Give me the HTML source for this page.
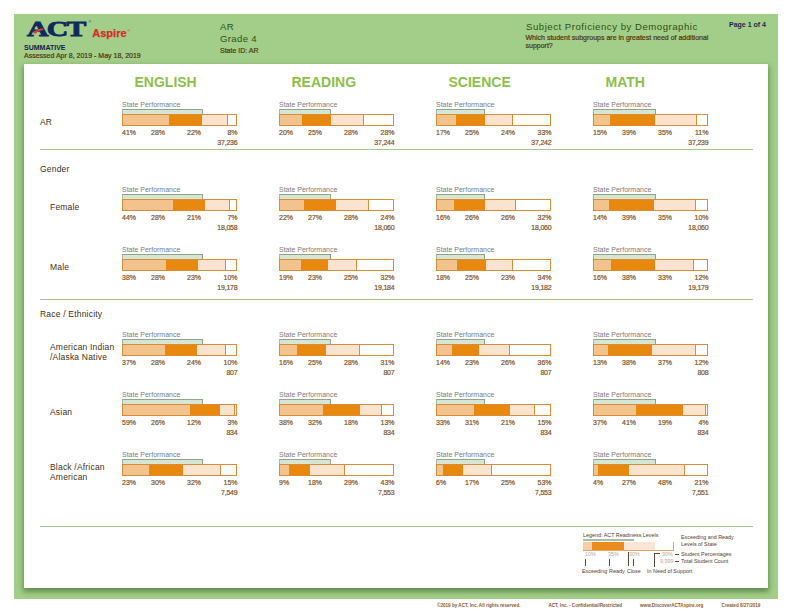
<!DOCTYPE html>
<html><head><meta charset="utf-8"><style>
html,body{margin:0;padding:0;background:#fff;}
body{width:792px;height:612px;position:relative;overflow:hidden;font-family:"Liberation Sans", sans-serif;}
.t{position:absolute;white-space:nowrap;}
.r{position:absolute;box-sizing:border-box;}
</style></head><body>
<div class="r" style="left:14px;top:14px;width:764px;height:585px;background:#a2ce89;"></div>
<div class="r" style="left:24px;top:64px;width:744px;height:524px;background:#ffffff;box-shadow:0 3px 5px 1px rgba(40,85,30,0.5);"></div>
<div class="t" style="left:27px;top:14px;font-family:'Liberation Serif',serif;font-weight:bold;font-size:21.5px;line-height:30px;color:#0f2a5e;transform:scaleX(1.38);transform-origin:0 0;letter-spacing:-1.2px;-webkit-text-stroke:0.9px #0f2a5e;">ACT</div>
<svg style="position:absolute;left:0;top:0" width="792" height="612"><path d="M33 33.2 C34.6 30.6 38.2 28.6 43.4 28.6 L43.4 30.2 C39.6 30.4 37 31.6 36 33.4 Z" fill="#dc3a2c"/></svg>
<div class="t" style="left:88.5px;top:20px;font-size:3.5px;line-height:4px;color:#0f2a5e;">&reg;</div>
<div class="t" style="left:92.3px;top:28px;font-size:11px;line-height:11px;color:#d42c27;font-weight:bold;-webkit-text-stroke:0.25px #d42c27;">Aspire</div>
<div class="t" style="left:127.5px;top:28.5px;font-size:3.5px;line-height:4px;color:#d42c27;">&reg;</div>
<div class="t" style="left:24px;top:44px;font-size:7px;line-height:7px;color:#13214a;font-weight:bold;">SUMMATIVE</div>
<div class="t" style="left:24px;top:52px;font-size:7px;line-height:7px;color:#4f3510;font-weight:normal;-webkit-text-stroke:0.2px #4f3510;">Assessed Apr 8, 2019 - May 18, 2019</div>
<div class="t" style="left:220px;top:22px;font-size:9.6px;line-height:9.6px;color:#2f5216;font-weight:normal;letter-spacing:0.35px;">AR</div>
<div class="t" style="left:220px;top:34px;font-size:9.6px;line-height:9.6px;color:#2f5216;font-weight:normal;letter-spacing:0.33px;">Grade 4</div>
<div class="t" style="left:220px;top:47px;font-size:7px;line-height:7px;color:#4a3a14;font-weight:normal;-webkit-text-stroke:0.2px #4a3a14;">State ID: AR</div>
<div class="t" style="left:526px;top:22px;font-size:9.6px;line-height:9.6px;color:#2f5216;font-weight:normal;letter-spacing:0.52px;">Subject Proficiency by Demographic</div>
<div class="t" style="left:525.5px;top:34px;font-size:7px;line-height:7px;color:#4f3510;font-weight:normal;-webkit-text-stroke:0.2px #4f3510;">Which student subgroups are in greatest need of additional</div>
<div class="t" style="left:525.5px;top:42px;font-size:7px;line-height:7px;color:#4f3510;font-weight:normal;-webkit-text-stroke:0.2px #4f3510;">support?</div>
<div class="t" style="right:26px;top:21px;font-size:7px;line-height:7px;color:#1b2a55;font-weight:bold;">Page 1 of 4</div>
<div class="t" style="left:134.5px;top:75px;font-size:14px;line-height:14px;color:#8dbf4b;font-weight:bold;">ENGLISH</div>
<div class="t" style="left:291.5px;top:75px;font-size:14px;line-height:14px;color:#8dbf4b;font-weight:bold;">READING</div>
<div class="t" style="left:448.5px;top:75px;font-size:14px;line-height:14px;color:#8dbf4b;font-weight:bold;">SCIENCE</div>
<div class="t" style="left:605.5px;top:75px;font-size:14px;line-height:14px;color:#8dbf4b;font-weight:bold;">MATH</div>
<div class="r" style="left:40px;top:149px;width:713px;height:1px;background:#a6c793;"></div>
<div class="t" style="left:40px;top:165px;font-size:8.5px;line-height:8.5px;color:#46301a;font-weight:normal;letter-spacing:0.2px;">Gender</div>
<div class="r" style="left:40px;top:299px;width:713px;height:1px;background:#a6c793;"></div>
<div class="t" style="left:40px;top:310px;font-size:8.5px;line-height:8.5px;color:#46301a;font-weight:normal;letter-spacing:0.2px;">Race / Ethnicity</div>
<div class="r" style="left:40px;top:526px;width:713px;height:1px;background:#a6c793;"></div>
<div class="t" style="left:40px;top:118px;font-size:8.5px;line-height:8.5px;color:#46301a;font-weight:normal;letter-spacing:0.2px;">AR</div>
<div class="t" style="left:122px;top:101px;font-size:7px;line-height:7px;color:#7d7d7d;font-weight:normal;">State Performance</div>
<div class="r" style="left:122px;top:109px;width:81px;height:6px;background:#d6e6d2;border:1px solid #8fa58c;border-left-color:#a9bca6;border-bottom:none;"></div>
<div class="r" style="left:122px;top:114px;width:115px;height:12px;background:#fff;border:1px solid #d98d38;"></div>
<div class="r" style="left:123px;top:115px;width:46px;height:10px;background:#f3c38e;"></div>
<div class="r" style="left:169px;top:115px;width:33px;height:10px;background:#e8880e;"></div>
<div class="r" style="left:202px;top:115px;width:25px;height:10px;background:#fbe4cf;"></div>
<div class="r" style="left:227px;top:115px;width:1px;height:10px;background:#d98d38;"></div>
<div class="t" style="left:122px;top:129px;font-size:7px;line-height:7px;color:#80532a;font-weight:normal;-webkit-text-stroke:0.2px #80532a;">41%</div>
<div class="t" style="right:627px;top:129px;font-size:7px;line-height:7px;color:#80532a;font-weight:normal;-webkit-text-stroke:0.2px #80532a;">28%</div>
<div class="t" style="right:591px;top:129px;font-size:7px;line-height:7px;color:#80532a;font-weight:normal;-webkit-text-stroke:0.2px #80532a;">22%</div>
<div class="t" style="right:554.5px;top:129px;font-size:7px;line-height:7px;color:#80532a;font-weight:normal;-webkit-text-stroke:0.2px #80532a;">8%</div>
<div class="t" style="right:554.5px;top:139px;font-size:7px;line-height:7px;color:#80532a;font-weight:normal;letter-spacing:-0.2px;-webkit-text-stroke:0.2px #80532a;">37,236</div>
<div class="t" style="left:279px;top:101px;font-size:7px;line-height:7px;color:#7d7d7d;font-weight:normal;">State Performance</div>
<div class="r" style="left:279px;top:109px;width:52px;height:6px;background:#d6e6d2;border:1px solid #8fa58c;border-left-color:#a9bca6;border-bottom:none;"></div>
<div class="r" style="left:279px;top:114px;width:115px;height:12px;background:#fff;border:1px solid #d98d38;"></div>
<div class="r" style="left:280px;top:115px;width:22px;height:10px;background:#f3c38e;"></div>
<div class="r" style="left:302px;top:115px;width:29px;height:10px;background:#e8880e;"></div>
<div class="r" style="left:331px;top:115px;width:32px;height:10px;background:#fbe4cf;"></div>
<div class="r" style="left:363px;top:115px;width:1px;height:10px;background:#d98d38;"></div>
<div class="t" style="left:279px;top:129px;font-size:7px;line-height:7px;color:#80532a;font-weight:normal;-webkit-text-stroke:0.2px #80532a;">20%</div>
<div class="t" style="right:470px;top:129px;font-size:7px;line-height:7px;color:#80532a;font-weight:normal;-webkit-text-stroke:0.2px #80532a;">25%</div>
<div class="t" style="right:434px;top:129px;font-size:7px;line-height:7px;color:#80532a;font-weight:normal;-webkit-text-stroke:0.2px #80532a;">28%</div>
<div class="t" style="right:397.5px;top:129px;font-size:7px;line-height:7px;color:#80532a;font-weight:normal;-webkit-text-stroke:0.2px #80532a;">28%</div>
<div class="t" style="right:397.5px;top:139px;font-size:7px;line-height:7px;color:#80532a;font-weight:normal;letter-spacing:-0.2px;-webkit-text-stroke:0.2px #80532a;">37,244</div>
<div class="t" style="left:436px;top:101px;font-size:7px;line-height:7px;color:#7d7d7d;font-weight:normal;">State Performance</div>
<div class="r" style="left:436px;top:109px;width:49px;height:6px;background:#d6e6d2;border:1px solid #8fa58c;border-left-color:#a9bca6;border-bottom:none;"></div>
<div class="r" style="left:436px;top:114px;width:115px;height:12px;background:#fff;border:1px solid #d98d38;"></div>
<div class="r" style="left:437px;top:115px;width:19px;height:10px;background:#f3c38e;"></div>
<div class="r" style="left:456px;top:115px;width:29px;height:10px;background:#e8880e;"></div>
<div class="r" style="left:485px;top:115px;width:27px;height:10px;background:#fbe4cf;"></div>
<div class="r" style="left:512px;top:115px;width:1px;height:10px;background:#d98d38;"></div>
<div class="t" style="left:436px;top:129px;font-size:7px;line-height:7px;color:#80532a;font-weight:normal;-webkit-text-stroke:0.2px #80532a;">17%</div>
<div class="t" style="right:313px;top:129px;font-size:7px;line-height:7px;color:#80532a;font-weight:normal;-webkit-text-stroke:0.2px #80532a;">25%</div>
<div class="t" style="right:277px;top:129px;font-size:7px;line-height:7px;color:#80532a;font-weight:normal;-webkit-text-stroke:0.2px #80532a;">24%</div>
<div class="t" style="right:240.5px;top:129px;font-size:7px;line-height:7px;color:#80532a;font-weight:normal;-webkit-text-stroke:0.2px #80532a;">33%</div>
<div class="t" style="right:240.5px;top:139px;font-size:7px;line-height:7px;color:#80532a;font-weight:normal;letter-spacing:-0.2px;-webkit-text-stroke:0.2px #80532a;">37,242</div>
<div class="t" style="left:593px;top:101px;font-size:7px;line-height:7px;color:#7d7d7d;font-weight:normal;">State Performance</div>
<div class="r" style="left:593px;top:109px;width:63px;height:6px;background:#d6e6d2;border:1px solid #8fa58c;border-left-color:#a9bca6;border-bottom:none;"></div>
<div class="r" style="left:593px;top:114px;width:115px;height:12px;background:#fff;border:1px solid #d98d38;"></div>
<div class="r" style="left:594px;top:115px;width:16px;height:10px;background:#f3c38e;"></div>
<div class="r" style="left:610px;top:115px;width:45px;height:10px;background:#e8880e;"></div>
<div class="r" style="left:655px;top:115px;width:41px;height:10px;background:#fbe4cf;"></div>
<div class="r" style="left:696px;top:115px;width:1px;height:10px;background:#d98d38;"></div>
<div class="t" style="left:593px;top:129px;font-size:7px;line-height:7px;color:#80532a;font-weight:normal;-webkit-text-stroke:0.2px #80532a;">15%</div>
<div class="t" style="right:156px;top:129px;font-size:7px;line-height:7px;color:#80532a;font-weight:normal;-webkit-text-stroke:0.2px #80532a;">39%</div>
<div class="t" style="right:120px;top:129px;font-size:7px;line-height:7px;color:#80532a;font-weight:normal;-webkit-text-stroke:0.2px #80532a;">35%</div>
<div class="t" style="right:83.5px;top:129px;font-size:7px;line-height:7px;color:#80532a;font-weight:normal;-webkit-text-stroke:0.2px #80532a;">11%</div>
<div class="t" style="right:83.5px;top:139px;font-size:7px;line-height:7px;color:#80532a;font-weight:normal;letter-spacing:-0.2px;-webkit-text-stroke:0.2px #80532a;">37,239</div>
<div class="t" style="left:50px;top:203px;font-size:8.5px;line-height:8.5px;color:#46301a;font-weight:normal;letter-spacing:0.2px;">Female</div>
<div class="t" style="left:122px;top:186px;font-size:7px;line-height:7px;color:#7d7d7d;font-weight:normal;">State Performance</div>
<div class="r" style="left:122px;top:194px;width:81px;height:6px;background:#d6e6d2;border:1px solid #8fa58c;border-left-color:#a9bca6;border-bottom:none;"></div>
<div class="r" style="left:122px;top:199px;width:115px;height:12px;background:#fff;border:1px solid #d98d38;"></div>
<div class="r" style="left:123px;top:200px;width:50px;height:10px;background:#f3c38e;"></div>
<div class="r" style="left:173px;top:200px;width:32px;height:10px;background:#e8880e;"></div>
<div class="r" style="left:205px;top:200px;width:24px;height:10px;background:#fbe4cf;"></div>
<div class="r" style="left:229px;top:200px;width:1px;height:10px;background:#d98d38;"></div>
<div class="t" style="left:122px;top:214px;font-size:7px;line-height:7px;color:#80532a;font-weight:normal;-webkit-text-stroke:0.2px #80532a;">44%</div>
<div class="t" style="right:627px;top:214px;font-size:7px;line-height:7px;color:#80532a;font-weight:normal;-webkit-text-stroke:0.2px #80532a;">28%</div>
<div class="t" style="right:591px;top:214px;font-size:7px;line-height:7px;color:#80532a;font-weight:normal;-webkit-text-stroke:0.2px #80532a;">21%</div>
<div class="t" style="right:554.5px;top:214px;font-size:7px;line-height:7px;color:#80532a;font-weight:normal;-webkit-text-stroke:0.2px #80532a;">7%</div>
<div class="t" style="right:554.5px;top:224px;font-size:7px;line-height:7px;color:#80532a;font-weight:normal;letter-spacing:-0.2px;-webkit-text-stroke:0.2px #80532a;">18,058</div>
<div class="t" style="left:279px;top:186px;font-size:7px;line-height:7px;color:#7d7d7d;font-weight:normal;">State Performance</div>
<div class="r" style="left:279px;top:194px;width:52px;height:6px;background:#d6e6d2;border:1px solid #8fa58c;border-left-color:#a9bca6;border-bottom:none;"></div>
<div class="r" style="left:279px;top:199px;width:115px;height:12px;background:#fff;border:1px solid #d98d38;"></div>
<div class="r" style="left:280px;top:200px;width:24px;height:10px;background:#f3c38e;"></div>
<div class="r" style="left:304px;top:200px;width:32px;height:10px;background:#e8880e;"></div>
<div class="r" style="left:336px;top:200px;width:32px;height:10px;background:#fbe4cf;"></div>
<div class="r" style="left:368px;top:200px;width:1px;height:10px;background:#d98d38;"></div>
<div class="t" style="left:279px;top:214px;font-size:7px;line-height:7px;color:#80532a;font-weight:normal;-webkit-text-stroke:0.2px #80532a;">22%</div>
<div class="t" style="right:470px;top:214px;font-size:7px;line-height:7px;color:#80532a;font-weight:normal;-webkit-text-stroke:0.2px #80532a;">27%</div>
<div class="t" style="right:434px;top:214px;font-size:7px;line-height:7px;color:#80532a;font-weight:normal;-webkit-text-stroke:0.2px #80532a;">28%</div>
<div class="t" style="right:397.5px;top:214px;font-size:7px;line-height:7px;color:#80532a;font-weight:normal;-webkit-text-stroke:0.2px #80532a;">24%</div>
<div class="t" style="right:397.5px;top:224px;font-size:7px;line-height:7px;color:#80532a;font-weight:normal;letter-spacing:-0.2px;-webkit-text-stroke:0.2px #80532a;">18,060</div>
<div class="t" style="left:436px;top:186px;font-size:7px;line-height:7px;color:#7d7d7d;font-weight:normal;">State Performance</div>
<div class="r" style="left:436px;top:194px;width:49px;height:6px;background:#d6e6d2;border:1px solid #8fa58c;border-left-color:#a9bca6;border-bottom:none;"></div>
<div class="r" style="left:436px;top:199px;width:115px;height:12px;background:#fff;border:1px solid #d98d38;"></div>
<div class="r" style="left:437px;top:200px;width:17px;height:10px;background:#f3c38e;"></div>
<div class="r" style="left:454px;top:200px;width:31px;height:10px;background:#e8880e;"></div>
<div class="r" style="left:485px;top:200px;width:30px;height:10px;background:#fbe4cf;"></div>
<div class="r" style="left:515px;top:200px;width:1px;height:10px;background:#d98d38;"></div>
<div class="t" style="left:436px;top:214px;font-size:7px;line-height:7px;color:#80532a;font-weight:normal;-webkit-text-stroke:0.2px #80532a;">16%</div>
<div class="t" style="right:313px;top:214px;font-size:7px;line-height:7px;color:#80532a;font-weight:normal;-webkit-text-stroke:0.2px #80532a;">26%</div>
<div class="t" style="right:277px;top:214px;font-size:7px;line-height:7px;color:#80532a;font-weight:normal;-webkit-text-stroke:0.2px #80532a;">26%</div>
<div class="t" style="right:240.5px;top:214px;font-size:7px;line-height:7px;color:#80532a;font-weight:normal;-webkit-text-stroke:0.2px #80532a;">32%</div>
<div class="t" style="right:240.5px;top:224px;font-size:7px;line-height:7px;color:#80532a;font-weight:normal;letter-spacing:-0.2px;-webkit-text-stroke:0.2px #80532a;">18,060</div>
<div class="t" style="left:593px;top:186px;font-size:7px;line-height:7px;color:#7d7d7d;font-weight:normal;">State Performance</div>
<div class="r" style="left:593px;top:194px;width:63px;height:6px;background:#d6e6d2;border:1px solid #8fa58c;border-left-color:#a9bca6;border-bottom:none;"></div>
<div class="r" style="left:593px;top:199px;width:115px;height:12px;background:#fff;border:1px solid #d98d38;"></div>
<div class="r" style="left:594px;top:200px;width:15px;height:10px;background:#f3c38e;"></div>
<div class="r" style="left:609px;top:200px;width:45px;height:10px;background:#e8880e;"></div>
<div class="r" style="left:654px;top:200px;width:41px;height:10px;background:#fbe4cf;"></div>
<div class="r" style="left:695px;top:200px;width:1px;height:10px;background:#d98d38;"></div>
<div class="t" style="left:593px;top:214px;font-size:7px;line-height:7px;color:#80532a;font-weight:normal;-webkit-text-stroke:0.2px #80532a;">14%</div>
<div class="t" style="right:156px;top:214px;font-size:7px;line-height:7px;color:#80532a;font-weight:normal;-webkit-text-stroke:0.2px #80532a;">39%</div>
<div class="t" style="right:120px;top:214px;font-size:7px;line-height:7px;color:#80532a;font-weight:normal;-webkit-text-stroke:0.2px #80532a;">35%</div>
<div class="t" style="right:83.5px;top:214px;font-size:7px;line-height:7px;color:#80532a;font-weight:normal;-webkit-text-stroke:0.2px #80532a;">10%</div>
<div class="t" style="right:83.5px;top:224px;font-size:7px;line-height:7px;color:#80532a;font-weight:normal;letter-spacing:-0.2px;-webkit-text-stroke:0.2px #80532a;">18,060</div>
<div class="t" style="left:50px;top:263px;font-size:8.5px;line-height:8.5px;color:#46301a;font-weight:normal;letter-spacing:0.2px;">Male</div>
<div class="t" style="left:122px;top:246px;font-size:7px;line-height:7px;color:#7d7d7d;font-weight:normal;">State Performance</div>
<div class="r" style="left:122px;top:254px;width:81px;height:6px;background:#d6e6d2;border:1px solid #8fa58c;border-left-color:#a9bca6;border-bottom:none;"></div>
<div class="r" style="left:122px;top:259px;width:115px;height:12px;background:#fff;border:1px solid #d98d38;"></div>
<div class="r" style="left:123px;top:260px;width:43px;height:10px;background:#f3c38e;"></div>
<div class="r" style="left:166px;top:260px;width:32px;height:10px;background:#e8880e;"></div>
<div class="r" style="left:198px;top:260px;width:27px;height:10px;background:#fbe4cf;"></div>
<div class="r" style="left:225px;top:260px;width:1px;height:10px;background:#d98d38;"></div>
<div class="t" style="left:122px;top:274px;font-size:7px;line-height:7px;color:#80532a;font-weight:normal;-webkit-text-stroke:0.2px #80532a;">38%</div>
<div class="t" style="right:627px;top:274px;font-size:7px;line-height:7px;color:#80532a;font-weight:normal;-webkit-text-stroke:0.2px #80532a;">28%</div>
<div class="t" style="right:591px;top:274px;font-size:7px;line-height:7px;color:#80532a;font-weight:normal;-webkit-text-stroke:0.2px #80532a;">23%</div>
<div class="t" style="right:554.5px;top:274px;font-size:7px;line-height:7px;color:#80532a;font-weight:normal;-webkit-text-stroke:0.2px #80532a;">10%</div>
<div class="t" style="right:554.5px;top:284px;font-size:7px;line-height:7px;color:#80532a;font-weight:normal;letter-spacing:-0.2px;-webkit-text-stroke:0.2px #80532a;">19,178</div>
<div class="t" style="left:279px;top:246px;font-size:7px;line-height:7px;color:#7d7d7d;font-weight:normal;">State Performance</div>
<div class="r" style="left:279px;top:254px;width:52px;height:6px;background:#d6e6d2;border:1px solid #8fa58c;border-left-color:#a9bca6;border-bottom:none;"></div>
<div class="r" style="left:279px;top:259px;width:115px;height:12px;background:#fff;border:1px solid #d98d38;"></div>
<div class="r" style="left:280px;top:260px;width:21px;height:10px;background:#f3c38e;"></div>
<div class="r" style="left:301px;top:260px;width:27px;height:10px;background:#e8880e;"></div>
<div class="r" style="left:328px;top:260px;width:28px;height:10px;background:#fbe4cf;"></div>
<div class="r" style="left:356px;top:260px;width:1px;height:10px;background:#d98d38;"></div>
<div class="t" style="left:279px;top:274px;font-size:7px;line-height:7px;color:#80532a;font-weight:normal;-webkit-text-stroke:0.2px #80532a;">19%</div>
<div class="t" style="right:470px;top:274px;font-size:7px;line-height:7px;color:#80532a;font-weight:normal;-webkit-text-stroke:0.2px #80532a;">23%</div>
<div class="t" style="right:434px;top:274px;font-size:7px;line-height:7px;color:#80532a;font-weight:normal;-webkit-text-stroke:0.2px #80532a;">25%</div>
<div class="t" style="right:397.5px;top:274px;font-size:7px;line-height:7px;color:#80532a;font-weight:normal;-webkit-text-stroke:0.2px #80532a;">32%</div>
<div class="t" style="right:397.5px;top:284px;font-size:7px;line-height:7px;color:#80532a;font-weight:normal;letter-spacing:-0.2px;-webkit-text-stroke:0.2px #80532a;">19,184</div>
<div class="t" style="left:436px;top:246px;font-size:7px;line-height:7px;color:#7d7d7d;font-weight:normal;">State Performance</div>
<div class="r" style="left:436px;top:254px;width:49px;height:6px;background:#d6e6d2;border:1px solid #8fa58c;border-left-color:#a9bca6;border-bottom:none;"></div>
<div class="r" style="left:436px;top:259px;width:115px;height:12px;background:#fff;border:1px solid #d98d38;"></div>
<div class="r" style="left:437px;top:260px;width:20px;height:10px;background:#f3c38e;"></div>
<div class="r" style="left:457px;top:260px;width:29px;height:10px;background:#e8880e;"></div>
<div class="r" style="left:486px;top:260px;width:26px;height:10px;background:#fbe4cf;"></div>
<div class="r" style="left:512px;top:260px;width:1px;height:10px;background:#d98d38;"></div>
<div class="t" style="left:436px;top:274px;font-size:7px;line-height:7px;color:#80532a;font-weight:normal;-webkit-text-stroke:0.2px #80532a;">18%</div>
<div class="t" style="right:313px;top:274px;font-size:7px;line-height:7px;color:#80532a;font-weight:normal;-webkit-text-stroke:0.2px #80532a;">25%</div>
<div class="t" style="right:277px;top:274px;font-size:7px;line-height:7px;color:#80532a;font-weight:normal;-webkit-text-stroke:0.2px #80532a;">23%</div>
<div class="t" style="right:240.5px;top:274px;font-size:7px;line-height:7px;color:#80532a;font-weight:normal;-webkit-text-stroke:0.2px #80532a;">34%</div>
<div class="t" style="right:240.5px;top:284px;font-size:7px;line-height:7px;color:#80532a;font-weight:normal;letter-spacing:-0.2px;-webkit-text-stroke:0.2px #80532a;">19,182</div>
<div class="t" style="left:593px;top:246px;font-size:7px;line-height:7px;color:#7d7d7d;font-weight:normal;">State Performance</div>
<div class="r" style="left:593px;top:254px;width:63px;height:6px;background:#d6e6d2;border:1px solid #8fa58c;border-left-color:#a9bca6;border-bottom:none;"></div>
<div class="r" style="left:593px;top:259px;width:115px;height:12px;background:#fff;border:1px solid #d98d38;"></div>
<div class="r" style="left:594px;top:260px;width:17px;height:10px;background:#f3c38e;"></div>
<div class="r" style="left:611px;top:260px;width:44px;height:10px;background:#e8880e;"></div>
<div class="r" style="left:655px;top:260px;width:38px;height:10px;background:#fbe4cf;"></div>
<div class="r" style="left:693px;top:260px;width:1px;height:10px;background:#d98d38;"></div>
<div class="t" style="left:593px;top:274px;font-size:7px;line-height:7px;color:#80532a;font-weight:normal;-webkit-text-stroke:0.2px #80532a;">16%</div>
<div class="t" style="right:156px;top:274px;font-size:7px;line-height:7px;color:#80532a;font-weight:normal;-webkit-text-stroke:0.2px #80532a;">38%</div>
<div class="t" style="right:120px;top:274px;font-size:7px;line-height:7px;color:#80532a;font-weight:normal;-webkit-text-stroke:0.2px #80532a;">33%</div>
<div class="t" style="right:83.5px;top:274px;font-size:7px;line-height:7px;color:#80532a;font-weight:normal;-webkit-text-stroke:0.2px #80532a;">12%</div>
<div class="t" style="right:83.5px;top:284px;font-size:7px;line-height:7px;color:#80532a;font-weight:normal;letter-spacing:-0.2px;-webkit-text-stroke:0.2px #80532a;">19,179</div>
<div class="t" style="left:50px;top:343px;font-size:8.5px;line-height:8.5px;color:#46301a;font-weight:normal;letter-spacing:0.2px;">American Indian</div>
<div class="t" style="left:50px;top:353px;font-size:8.5px;line-height:8.5px;color:#46301a;font-weight:normal;letter-spacing:0.2px;">/Alaska Native</div>
<div class="t" style="left:122px;top:331px;font-size:7px;line-height:7px;color:#7d7d7d;font-weight:normal;">State Performance</div>
<div class="r" style="left:122px;top:339px;width:81px;height:6px;background:#d6e6d2;border:1px solid #8fa58c;border-left-color:#a9bca6;border-bottom:none;"></div>
<div class="r" style="left:122px;top:344px;width:115px;height:12px;background:#fff;border:1px solid #d98d38;"></div>
<div class="r" style="left:123px;top:345px;width:42px;height:10px;background:#f3c38e;"></div>
<div class="r" style="left:165px;top:345px;width:32px;height:10px;background:#e8880e;"></div>
<div class="r" style="left:197px;top:345px;width:28px;height:10px;background:#fbe4cf;"></div>
<div class="r" style="left:225px;top:345px;width:1px;height:10px;background:#d98d38;"></div>
<div class="t" style="left:122px;top:359px;font-size:7px;line-height:7px;color:#80532a;font-weight:normal;-webkit-text-stroke:0.2px #80532a;">37%</div>
<div class="t" style="right:627px;top:359px;font-size:7px;line-height:7px;color:#80532a;font-weight:normal;-webkit-text-stroke:0.2px #80532a;">28%</div>
<div class="t" style="right:591px;top:359px;font-size:7px;line-height:7px;color:#80532a;font-weight:normal;-webkit-text-stroke:0.2px #80532a;">24%</div>
<div class="t" style="right:554.5px;top:359px;font-size:7px;line-height:7px;color:#80532a;font-weight:normal;-webkit-text-stroke:0.2px #80532a;">10%</div>
<div class="t" style="right:554.5px;top:369px;font-size:7px;line-height:7px;color:#80532a;font-weight:normal;letter-spacing:-0.2px;-webkit-text-stroke:0.2px #80532a;">807</div>
<div class="t" style="left:279px;top:331px;font-size:7px;line-height:7px;color:#7d7d7d;font-weight:normal;">State Performance</div>
<div class="r" style="left:279px;top:339px;width:52px;height:6px;background:#d6e6d2;border:1px solid #8fa58c;border-left-color:#a9bca6;border-bottom:none;"></div>
<div class="r" style="left:279px;top:344px;width:115px;height:12px;background:#fff;border:1px solid #d98d38;"></div>
<div class="r" style="left:280px;top:345px;width:17px;height:10px;background:#f3c38e;"></div>
<div class="r" style="left:297px;top:345px;width:29px;height:10px;background:#e8880e;"></div>
<div class="r" style="left:326px;top:345px;width:33px;height:10px;background:#fbe4cf;"></div>
<div class="r" style="left:359px;top:345px;width:1px;height:10px;background:#d98d38;"></div>
<div class="t" style="left:279px;top:359px;font-size:7px;line-height:7px;color:#80532a;font-weight:normal;-webkit-text-stroke:0.2px #80532a;">16%</div>
<div class="t" style="right:470px;top:359px;font-size:7px;line-height:7px;color:#80532a;font-weight:normal;-webkit-text-stroke:0.2px #80532a;">25%</div>
<div class="t" style="right:434px;top:359px;font-size:7px;line-height:7px;color:#80532a;font-weight:normal;-webkit-text-stroke:0.2px #80532a;">28%</div>
<div class="t" style="right:397.5px;top:359px;font-size:7px;line-height:7px;color:#80532a;font-weight:normal;-webkit-text-stroke:0.2px #80532a;">31%</div>
<div class="t" style="right:397.5px;top:369px;font-size:7px;line-height:7px;color:#80532a;font-weight:normal;letter-spacing:-0.2px;-webkit-text-stroke:0.2px #80532a;">807</div>
<div class="t" style="left:436px;top:331px;font-size:7px;line-height:7px;color:#7d7d7d;font-weight:normal;">State Performance</div>
<div class="r" style="left:436px;top:339px;width:49px;height:6px;background:#d6e6d2;border:1px solid #8fa58c;border-left-color:#a9bca6;border-bottom:none;"></div>
<div class="r" style="left:436px;top:344px;width:115px;height:12px;background:#fff;border:1px solid #d98d38;"></div>
<div class="r" style="left:437px;top:345px;width:15px;height:10px;background:#f3c38e;"></div>
<div class="r" style="left:452px;top:345px;width:27px;height:10px;background:#e8880e;"></div>
<div class="r" style="left:479px;top:345px;width:30px;height:10px;background:#fbe4cf;"></div>
<div class="r" style="left:509px;top:345px;width:1px;height:10px;background:#d98d38;"></div>
<div class="t" style="left:436px;top:359px;font-size:7px;line-height:7px;color:#80532a;font-weight:normal;-webkit-text-stroke:0.2px #80532a;">14%</div>
<div class="t" style="right:313px;top:359px;font-size:7px;line-height:7px;color:#80532a;font-weight:normal;-webkit-text-stroke:0.2px #80532a;">23%</div>
<div class="t" style="right:277px;top:359px;font-size:7px;line-height:7px;color:#80532a;font-weight:normal;-webkit-text-stroke:0.2px #80532a;">26%</div>
<div class="t" style="right:240.5px;top:359px;font-size:7px;line-height:7px;color:#80532a;font-weight:normal;-webkit-text-stroke:0.2px #80532a;">36%</div>
<div class="t" style="right:240.5px;top:369px;font-size:7px;line-height:7px;color:#80532a;font-weight:normal;letter-spacing:-0.2px;-webkit-text-stroke:0.2px #80532a;">807</div>
<div class="t" style="left:593px;top:331px;font-size:7px;line-height:7px;color:#7d7d7d;font-weight:normal;">State Performance</div>
<div class="r" style="left:593px;top:339px;width:63px;height:6px;background:#d6e6d2;border:1px solid #8fa58c;border-left-color:#a9bca6;border-bottom:none;"></div>
<div class="r" style="left:593px;top:344px;width:115px;height:12px;background:#fff;border:1px solid #d98d38;"></div>
<div class="r" style="left:594px;top:345px;width:14px;height:10px;background:#f3c38e;"></div>
<div class="r" style="left:608px;top:345px;width:44px;height:10px;background:#e8880e;"></div>
<div class="r" style="left:652px;top:345px;width:43px;height:10px;background:#fbe4cf;"></div>
<div class="r" style="left:695px;top:345px;width:1px;height:10px;background:#d98d38;"></div>
<div class="t" style="left:593px;top:359px;font-size:7px;line-height:7px;color:#80532a;font-weight:normal;-webkit-text-stroke:0.2px #80532a;">13%</div>
<div class="t" style="right:156px;top:359px;font-size:7px;line-height:7px;color:#80532a;font-weight:normal;-webkit-text-stroke:0.2px #80532a;">38%</div>
<div class="t" style="right:120px;top:359px;font-size:7px;line-height:7px;color:#80532a;font-weight:normal;-webkit-text-stroke:0.2px #80532a;">37%</div>
<div class="t" style="right:83.5px;top:359px;font-size:7px;line-height:7px;color:#80532a;font-weight:normal;-webkit-text-stroke:0.2px #80532a;">12%</div>
<div class="t" style="right:83.5px;top:369px;font-size:7px;line-height:7px;color:#80532a;font-weight:normal;letter-spacing:-0.2px;-webkit-text-stroke:0.2px #80532a;">808</div>
<div class="t" style="left:50px;top:408px;font-size:8.5px;line-height:8.5px;color:#46301a;font-weight:normal;letter-spacing:0.2px;">Asian</div>
<div class="t" style="left:122px;top:391px;font-size:7px;line-height:7px;color:#7d7d7d;font-weight:normal;">State Performance</div>
<div class="r" style="left:122px;top:399px;width:81px;height:6px;background:#d6e6d2;border:1px solid #8fa58c;border-left-color:#a9bca6;border-bottom:none;"></div>
<div class="r" style="left:122px;top:404px;width:115px;height:12px;background:#fff;border:1px solid #d98d38;"></div>
<div class="r" style="left:123px;top:405px;width:67px;height:10px;background:#f3c38e;"></div>
<div class="r" style="left:190px;top:405px;width:30px;height:10px;background:#e8880e;"></div>
<div class="r" style="left:220px;top:405px;width:14px;height:10px;background:#fbe4cf;"></div>
<div class="r" style="left:234px;top:405px;width:1px;height:10px;background:#d98d38;"></div>
<div class="t" style="left:122px;top:419px;font-size:7px;line-height:7px;color:#80532a;font-weight:normal;-webkit-text-stroke:0.2px #80532a;">59%</div>
<div class="t" style="right:627px;top:419px;font-size:7px;line-height:7px;color:#80532a;font-weight:normal;-webkit-text-stroke:0.2px #80532a;">26%</div>
<div class="t" style="right:591px;top:419px;font-size:7px;line-height:7px;color:#80532a;font-weight:normal;-webkit-text-stroke:0.2px #80532a;">12%</div>
<div class="t" style="right:554.5px;top:419px;font-size:7px;line-height:7px;color:#80532a;font-weight:normal;-webkit-text-stroke:0.2px #80532a;">3%</div>
<div class="t" style="right:554.5px;top:429px;font-size:7px;line-height:7px;color:#80532a;font-weight:normal;letter-spacing:-0.2px;-webkit-text-stroke:0.2px #80532a;">834</div>
<div class="t" style="left:279px;top:391px;font-size:7px;line-height:7px;color:#7d7d7d;font-weight:normal;">State Performance</div>
<div class="r" style="left:279px;top:399px;width:52px;height:6px;background:#d6e6d2;border:1px solid #8fa58c;border-left-color:#a9bca6;border-bottom:none;"></div>
<div class="r" style="left:279px;top:404px;width:115px;height:12px;background:#fff;border:1px solid #d98d38;"></div>
<div class="r" style="left:280px;top:405px;width:43px;height:10px;background:#f3c38e;"></div>
<div class="r" style="left:323px;top:405px;width:37px;height:10px;background:#e8880e;"></div>
<div class="r" style="left:360px;top:405px;width:21px;height:10px;background:#fbe4cf;"></div>
<div class="r" style="left:381px;top:405px;width:1px;height:10px;background:#d98d38;"></div>
<div class="t" style="left:279px;top:419px;font-size:7px;line-height:7px;color:#80532a;font-weight:normal;-webkit-text-stroke:0.2px #80532a;">38%</div>
<div class="t" style="right:470px;top:419px;font-size:7px;line-height:7px;color:#80532a;font-weight:normal;-webkit-text-stroke:0.2px #80532a;">32%</div>
<div class="t" style="right:434px;top:419px;font-size:7px;line-height:7px;color:#80532a;font-weight:normal;-webkit-text-stroke:0.2px #80532a;">18%</div>
<div class="t" style="right:397.5px;top:419px;font-size:7px;line-height:7px;color:#80532a;font-weight:normal;-webkit-text-stroke:0.2px #80532a;">13%</div>
<div class="t" style="right:397.5px;top:429px;font-size:7px;line-height:7px;color:#80532a;font-weight:normal;letter-spacing:-0.2px;-webkit-text-stroke:0.2px #80532a;">834</div>
<div class="t" style="left:436px;top:391px;font-size:7px;line-height:7px;color:#7d7d7d;font-weight:normal;">State Performance</div>
<div class="r" style="left:436px;top:399px;width:49px;height:6px;background:#d6e6d2;border:1px solid #8fa58c;border-left-color:#a9bca6;border-bottom:none;"></div>
<div class="r" style="left:436px;top:404px;width:115px;height:12px;background:#fff;border:1px solid #d98d38;"></div>
<div class="r" style="left:437px;top:405px;width:37px;height:10px;background:#f3c38e;"></div>
<div class="r" style="left:474px;top:405px;width:36px;height:10px;background:#e8880e;"></div>
<div class="r" style="left:510px;top:405px;width:24px;height:10px;background:#fbe4cf;"></div>
<div class="r" style="left:534px;top:405px;width:1px;height:10px;background:#d98d38;"></div>
<div class="t" style="left:436px;top:419px;font-size:7px;line-height:7px;color:#80532a;font-weight:normal;-webkit-text-stroke:0.2px #80532a;">33%</div>
<div class="t" style="right:313px;top:419px;font-size:7px;line-height:7px;color:#80532a;font-weight:normal;-webkit-text-stroke:0.2px #80532a;">31%</div>
<div class="t" style="right:277px;top:419px;font-size:7px;line-height:7px;color:#80532a;font-weight:normal;-webkit-text-stroke:0.2px #80532a;">21%</div>
<div class="t" style="right:240.5px;top:419px;font-size:7px;line-height:7px;color:#80532a;font-weight:normal;-webkit-text-stroke:0.2px #80532a;">15%</div>
<div class="t" style="right:240.5px;top:429px;font-size:7px;line-height:7px;color:#80532a;font-weight:normal;letter-spacing:-0.2px;-webkit-text-stroke:0.2px #80532a;">834</div>
<div class="t" style="left:593px;top:391px;font-size:7px;line-height:7px;color:#7d7d7d;font-weight:normal;">State Performance</div>
<div class="r" style="left:593px;top:399px;width:63px;height:6px;background:#d6e6d2;border:1px solid #8fa58c;border-left-color:#a9bca6;border-bottom:none;"></div>
<div class="r" style="left:593px;top:404px;width:115px;height:12px;background:#fff;border:1px solid #d98d38;"></div>
<div class="r" style="left:594px;top:405px;width:42px;height:10px;background:#f3c38e;"></div>
<div class="r" style="left:636px;top:405px;width:47px;height:10px;background:#e8880e;"></div>
<div class="r" style="left:683px;top:405px;width:22px;height:10px;background:#fbe4cf;"></div>
<div class="r" style="left:705px;top:405px;width:1px;height:10px;background:#d98d38;"></div>
<div class="t" style="left:593px;top:419px;font-size:7px;line-height:7px;color:#80532a;font-weight:normal;-webkit-text-stroke:0.2px #80532a;">37%</div>
<div class="t" style="right:156px;top:419px;font-size:7px;line-height:7px;color:#80532a;font-weight:normal;-webkit-text-stroke:0.2px #80532a;">41%</div>
<div class="t" style="right:120px;top:419px;font-size:7px;line-height:7px;color:#80532a;font-weight:normal;-webkit-text-stroke:0.2px #80532a;">19%</div>
<div class="t" style="right:83.5px;top:419px;font-size:7px;line-height:7px;color:#80532a;font-weight:normal;-webkit-text-stroke:0.2px #80532a;">4%</div>
<div class="t" style="right:83.5px;top:429px;font-size:7px;line-height:7px;color:#80532a;font-weight:normal;letter-spacing:-0.2px;-webkit-text-stroke:0.2px #80532a;">834</div>
<div class="t" style="left:50px;top:463px;font-size:8.5px;line-height:8.5px;color:#46301a;font-weight:normal;letter-spacing:0.2px;">Black /African</div>
<div class="t" style="left:50px;top:473px;font-size:8.5px;line-height:8.5px;color:#46301a;font-weight:normal;letter-spacing:0.2px;">American</div>
<div class="t" style="left:122px;top:451px;font-size:7px;line-height:7px;color:#7d7d7d;font-weight:normal;">State Performance</div>
<div class="r" style="left:122px;top:459px;width:81px;height:6px;background:#d6e6d2;border:1px solid #8fa58c;border-left-color:#a9bca6;border-bottom:none;"></div>
<div class="r" style="left:122px;top:464px;width:115px;height:12px;background:#fff;border:1px solid #d98d38;"></div>
<div class="r" style="left:123px;top:465px;width:26px;height:10px;background:#f3c38e;"></div>
<div class="r" style="left:149px;top:465px;width:34px;height:10px;background:#e8880e;"></div>
<div class="r" style="left:183px;top:465px;width:37px;height:10px;background:#fbe4cf;"></div>
<div class="r" style="left:220px;top:465px;width:1px;height:10px;background:#d98d38;"></div>
<div class="t" style="left:122px;top:479px;font-size:7px;line-height:7px;color:#80532a;font-weight:normal;-webkit-text-stroke:0.2px #80532a;">23%</div>
<div class="t" style="right:627px;top:479px;font-size:7px;line-height:7px;color:#80532a;font-weight:normal;-webkit-text-stroke:0.2px #80532a;">30%</div>
<div class="t" style="right:591px;top:479px;font-size:7px;line-height:7px;color:#80532a;font-weight:normal;-webkit-text-stroke:0.2px #80532a;">32%</div>
<div class="t" style="right:554.5px;top:479px;font-size:7px;line-height:7px;color:#80532a;font-weight:normal;-webkit-text-stroke:0.2px #80532a;">15%</div>
<div class="t" style="right:554.5px;top:489px;font-size:7px;line-height:7px;color:#80532a;font-weight:normal;letter-spacing:-0.2px;-webkit-text-stroke:0.2px #80532a;">7,549</div>
<div class="t" style="left:279px;top:451px;font-size:7px;line-height:7px;color:#7d7d7d;font-weight:normal;">State Performance</div>
<div class="r" style="left:279px;top:459px;width:52px;height:6px;background:#d6e6d2;border:1px solid #8fa58c;border-left-color:#a9bca6;border-bottom:none;"></div>
<div class="r" style="left:279px;top:464px;width:115px;height:12px;background:#fff;border:1px solid #d98d38;"></div>
<div class="r" style="left:280px;top:465px;width:9px;height:10px;background:#f3c38e;"></div>
<div class="r" style="left:289px;top:465px;width:21px;height:10px;background:#e8880e;"></div>
<div class="r" style="left:310px;top:465px;width:34px;height:10px;background:#fbe4cf;"></div>
<div class="r" style="left:344px;top:465px;width:1px;height:10px;background:#d98d38;"></div>
<div class="t" style="left:279px;top:479px;font-size:7px;line-height:7px;color:#80532a;font-weight:normal;-webkit-text-stroke:0.2px #80532a;">9%</div>
<div class="t" style="right:470px;top:479px;font-size:7px;line-height:7px;color:#80532a;font-weight:normal;-webkit-text-stroke:0.2px #80532a;">18%</div>
<div class="t" style="right:434px;top:479px;font-size:7px;line-height:7px;color:#80532a;font-weight:normal;-webkit-text-stroke:0.2px #80532a;">29%</div>
<div class="t" style="right:397.5px;top:479px;font-size:7px;line-height:7px;color:#80532a;font-weight:normal;-webkit-text-stroke:0.2px #80532a;">43%</div>
<div class="t" style="right:397.5px;top:489px;font-size:7px;line-height:7px;color:#80532a;font-weight:normal;letter-spacing:-0.2px;-webkit-text-stroke:0.2px #80532a;">7,553</div>
<div class="t" style="left:436px;top:451px;font-size:7px;line-height:7px;color:#7d7d7d;font-weight:normal;">State Performance</div>
<div class="r" style="left:436px;top:459px;width:49px;height:6px;background:#d6e6d2;border:1px solid #8fa58c;border-left-color:#a9bca6;border-bottom:none;"></div>
<div class="r" style="left:436px;top:464px;width:115px;height:12px;background:#fff;border:1px solid #d98d38;"></div>
<div class="r" style="left:437px;top:465px;width:6px;height:10px;background:#f3c38e;"></div>
<div class="r" style="left:443px;top:465px;width:20px;height:10px;background:#e8880e;"></div>
<div class="r" style="left:463px;top:465px;width:28px;height:10px;background:#fbe4cf;"></div>
<div class="r" style="left:491px;top:465px;width:1px;height:10px;background:#d98d38;"></div>
<div class="t" style="left:436px;top:479px;font-size:7px;line-height:7px;color:#80532a;font-weight:normal;-webkit-text-stroke:0.2px #80532a;">6%</div>
<div class="t" style="right:313px;top:479px;font-size:7px;line-height:7px;color:#80532a;font-weight:normal;-webkit-text-stroke:0.2px #80532a;">17%</div>
<div class="t" style="right:277px;top:479px;font-size:7px;line-height:7px;color:#80532a;font-weight:normal;-webkit-text-stroke:0.2px #80532a;">25%</div>
<div class="t" style="right:240.5px;top:479px;font-size:7px;line-height:7px;color:#80532a;font-weight:normal;-webkit-text-stroke:0.2px #80532a;">53%</div>
<div class="t" style="right:240.5px;top:489px;font-size:7px;line-height:7px;color:#80532a;font-weight:normal;letter-spacing:-0.2px;-webkit-text-stroke:0.2px #80532a;">7,553</div>
<div class="t" style="left:593px;top:451px;font-size:7px;line-height:7px;color:#7d7d7d;font-weight:normal;">State Performance</div>
<div class="r" style="left:593px;top:459px;width:63px;height:6px;background:#d6e6d2;border:1px solid #8fa58c;border-left-color:#a9bca6;border-bottom:none;"></div>
<div class="r" style="left:593px;top:464px;width:115px;height:12px;background:#fff;border:1px solid #d98d38;"></div>
<div class="r" style="left:594px;top:465px;width:4px;height:10px;background:#f3c38e;"></div>
<div class="r" style="left:598px;top:465px;width:31px;height:10px;background:#e8880e;"></div>
<div class="r" style="left:629px;top:465px;width:55px;height:10px;background:#fbe4cf;"></div>
<div class="r" style="left:684px;top:465px;width:1px;height:10px;background:#d98d38;"></div>
<div class="t" style="left:593px;top:479px;font-size:7px;line-height:7px;color:#80532a;font-weight:normal;-webkit-text-stroke:0.2px #80532a;">4%</div>
<div class="t" style="right:156px;top:479px;font-size:7px;line-height:7px;color:#80532a;font-weight:normal;-webkit-text-stroke:0.2px #80532a;">27%</div>
<div class="t" style="right:120px;top:479px;font-size:7px;line-height:7px;color:#80532a;font-weight:normal;-webkit-text-stroke:0.2px #80532a;">48%</div>
<div class="t" style="right:83.5px;top:479px;font-size:7px;line-height:7px;color:#80532a;font-weight:normal;-webkit-text-stroke:0.2px #80532a;">21%</div>
<div class="t" style="right:83.5px;top:489px;font-size:7px;line-height:7px;color:#80532a;font-weight:normal;letter-spacing:-0.2px;-webkit-text-stroke:0.2px #80532a;">7,551</div>
<div class="t" style="left:583px;top:533px;font-size:5.4px;line-height:5.4px;color:#55402c;font-weight:normal;">Legend: ACT Readiness Levels</div>
<div class="r" style="left:583px;top:539px;width:51px;height:2px;background:#a9bda6;"></div>
<div class="r" style="left:583px;top:542px;width:9px;height:8px;background:#f6cfa8;"></div>
<div class="r" style="left:592px;top:542px;width:32px;height:8px;background:#e98d1e;"></div>
<div class="r" style="left:624px;top:542px;width:31px;height:8px;background:#fbe6d6;"></div>
<div class="r" style="left:583px;top:550px;width:91px;height:1.2px;background:#e7a565;"></div>
<div class="r" style="left:673px;top:542px;width:1.2px;height:9px;background:#e7a565;"></div>
<div class="t" style="left:585px;top:552px;font-size:5.4px;line-height:5.4px;color:#b5a898;font-weight:normal;">10%</div>
<div class="t" style="left:608px;top:552px;font-size:5.4px;line-height:5.4px;color:#b5a898;font-weight:normal;">35%</div>
<div class="t" style="left:629px;top:552px;font-size:5.4px;line-height:5.4px;color:#b5a898;font-weight:normal;">30%</div>
<div class="t" style="left:662px;top:552px;font-size:5.4px;line-height:5.4px;color:#b5a898;font-weight:normal;">30%</div>
<div class="t" style="left:660px;top:559px;font-size:5.4px;line-height:5.4px;color:#b5a898;font-weight:normal;">9,999</div>
<div class="r" style="left:585px;top:559px;width:1px;height:7px;background:#5c4a38;"></div>
<div class="r" style="left:609px;top:559px;width:1px;height:7px;background:#5c4a38;"></div>
<div class="r" style="left:628px;top:552px;width:1px;height:14px;background:#5c4a38;"></div>
<div class="r" style="left:633px;top:559px;width:1px;height:7px;background:#5c4a38;"></div>
<div class="r" style="left:654px;top:553px;width:1px;height:14px;background:#5c4a38;"></div>
<div class="r" style="left:654px;top:553px;width:6px;height:1px;background:#5c4a38;"></div>
<div class="r" style="left:675px;top:553.5px;width:4px;height:1px;background:#5c4a38;"></div>
<div class="r" style="left:675px;top:560.5px;width:4px;height:1px;background:#5c4a38;"></div>
<div class="t" style="left:681px;top:535px;font-size:5.4px;line-height:5.4px;color:#55402c;font-weight:normal;">Exceeding and Ready</div>
<div class="t" style="left:681px;top:542px;font-size:5.4px;line-height:5.4px;color:#55402c;font-weight:normal;">Levels of State</div>
<div class="t" style="left:681px;top:552px;font-size:5.4px;line-height:5.4px;color:#55402c;font-weight:normal;">Student Percentages</div>
<div class="t" style="left:681px;top:559px;font-size:5.4px;line-height:5.4px;color:#55402c;font-weight:normal;">Total Student Count</div>
<div class="t" style="left:582px;top:569px;font-size:5.4px;line-height:5.4px;color:#55402c;font-weight:normal;">Exceeding</div>
<div class="t" style="left:609px;top:569px;font-size:5.4px;line-height:5.4px;color:#55402c;font-weight:normal;">Ready</div>
<div class="t" style="left:627px;top:569px;font-size:5.4px;line-height:5.4px;color:#55402c;font-weight:normal;">Close</div>
<div class="t" style="left:647px;top:569px;font-size:5.4px;line-height:5.4px;color:#55402c;font-weight:normal;">In Need of Support</div>
<div class="t" style="left:437px;top:604px;font-size:4.6px;line-height:4.6px;color:#8b5a2b;font-weight:bold;">&copy;2019 by ACT, Inc. All rights reserved.</div>
<div class="t" style="left:548.4px;top:604px;font-size:4.6px;line-height:4.6px;color:#8b5a2b;font-weight:bold;">ACT, Inc. - Confidential/Restricted</div>
<div class="t" style="left:640px;top:604px;font-size:4.6px;line-height:4.6px;color:#8b5a2b;font-weight:bold;">www.DiscoverACTAspire.org</div>
<div class="t" style="left:721.6px;top:604px;font-size:4.6px;line-height:4.6px;color:#8b5a2b;font-weight:bold;">Created 8/27/2019</div>
</body></html>
